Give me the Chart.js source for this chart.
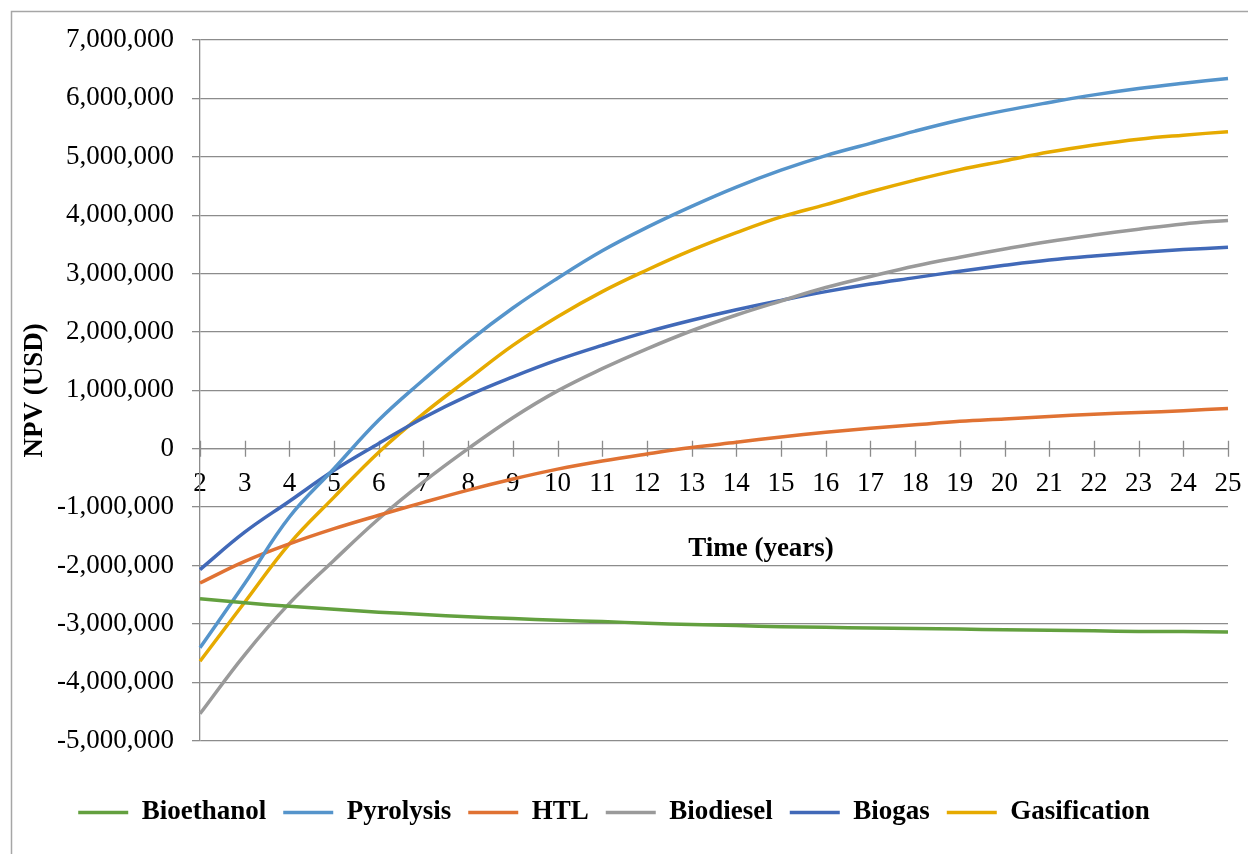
<!DOCTYPE html>
<html>
<head>
<meta charset="utf-8">
<title>NPV over time</title>
<script src="https://cdn.jsdelivr.net/npm/chart.js@4.4.0/dist/chart.umd.min.js"></script>
<style>
  html, body { margin: 0; padding: 0; background: #fff; }
  #wrap { width: 1248px; height: 854px; position: relative; }
</style>
</head>
<body>
<div id="wrap"><canvas id="npvChart"></canvas></div>
<script>
let years = ['2', '3', '4', '5', '6', '7', '8', '9', '10', '11', '12', '13',
             '14', '15', '16', '17', '18', '19', '20', '21', '22', '23', '24', '25'];

let bioethanol = [-2570000, -2640000, -2700000, -2750000, -2800000, -2840000, -2880000, -2910000,
                  -2940000, -2960000, -2990000, -3010000, -3030000, -3050000, -3060000, -3070000,
                  -3080000, -3090000, -3100000, -3110000, -3120000, -3130000, -3130000, -3140000];
let pyrolysis = [-3410000, -2310000, -1170000, -340000, 490000, 1180000, 1830000, 2410000,
                 2920000, 3390000, 3790000, 4150000, 4480000, 4770000, 5020000, 5230000,
                 5440000, 5630000, 5790000, 5930000, 6060000, 6170000, 6260000, 6340000];
let htl = [-2300000, -1930000, -1630000, -1370000, -1140000, -920000, -710000, -520000,
           -350000, -210000, -90000, 20000, 110000, 200000, 280000, 350000,
           410000, 470000, 510000, 550000, 590000, 620000, 650000, 690000];
let biodiesel = [-4540000, -3530000, -2650000, -1910000, -1200000, -570000, 0, 530000,
                 990000, 1370000, 1710000, 2020000, 2290000, 2530000, 2760000, 2950000,
                 3130000, 3280000, 3420000, 3550000, 3660000, 3760000, 3850000, 3910000];
let biogas = [-2070000, -1430000, -900000, -370000, 90000, 530000, 910000, 1230000,
              1520000, 1770000, 2000000, 2200000, 2380000, 2540000, 2690000, 2820000,
              2930000, 3040000, 3140000, 3230000, 3300000, 3360000, 3410000, 3450000];
let gasification = [-3640000, -2630000, -1630000, -830000, -60000, 600000, 1190000, 1770000,
                    2260000, 2690000, 3060000, 3400000, 3700000, 3970000, 4180000, 4400000,
                    4600000, 4780000, 4930000, 5080000, 5200000, 5300000, 5370000, 5430000];

let seriesNames = ['Bioethanol', 'Pyrolysis', 'HTL', 'Biodiesel', 'Biogas', 'Gasification'];
let seriesData = [bioethanol, pyrolysis, htl, biodiesel, biogas, gasification];
let seriesColors = ['#63a03f', '#5594cb', '#e07233', '#9a9a9a', '#4169b8', '#e6aa00'];

let axisGrey = '#8c8c8c';
let serif = '"Liberation Serif", "Times New Roman", serif';

Chart.defaults.font.family = serif;
Chart.defaults.font.size = 27;
Chart.defaults.color = '#000';

// frame, tick marks across the zero axis and the x-axis caption
let decor = {
  id: 'decor',
  beforeDraw(chart) {
    let ctx = chart.ctx;
    ctx.save();
    ctx.fillStyle = '#fff';
    ctx.fillRect(0, 0, chart.width, chart.height);
    ctx.strokeStyle = '#a6a6a6';
    ctx.lineWidth = 1.5;
    ctx.strokeRect(11.5, 11.5, chart.width + 20, chart.height + 20);
    ctx.restore();
  },
  beforeDatasetsDraw(chart) {
    let ctx = chart.ctx;
    let xs = chart.scales.x, ys = chart.scales.y;
    let y0 = ys.getPixelForValue(0);
    ctx.save();
    ctx.strokeStyle = axisGrey;
    ctx.lineWidth = 1.3;
    ctx.beginPath();
    xs.ticks.forEach((t, i) => {
      let x = Math.round(xs.getPixelForTick(i)) + 0.5;
      ctx.moveTo(x, y0 - 8);
      ctx.lineTo(x, y0 + 8);
    });
    ctx.stroke();
    ctx.restore();
  },
  afterDraw(chart) {
    let ctx = chart.ctx;
    let area = chart.chartArea;
    let y0 = chart.scales.y.getPixelForValue(0);
    ctx.save();
    ctx.font = 'bold 27px ' + serif;
    ctx.fillStyle = '#000';
    ctx.textAlign = 'center';
    ctx.textBaseline = 'middle';
    ctx.fillText('Time (years)', area.left + 561, y0 + 100);
    ctx.restore();
  }
};

let ctx = document.getElementById('npvChart').getContext('2d');

let npvChart = new Chart(ctx, {
  type: 'line',
  data: {
    labels: years,
    datasets: seriesNames.map((name, i) => ({
      label: name,
      data: seriesData[i],
      borderColor: seriesColors[i],
      backgroundColor: seriesColors[i],
      borderWidth: 3.5,
      pointRadius: 0,
      tension: 0.4,
      fill: false
    }))
  },
  options: {
    responsive: true,
    maintainAspectRatio: false,
    animation: false,
    layout: { padding: { top: 40, right: 20, bottom: 18, left: 0 } },
    plugins: {
      legend: {
        position: 'bottom',
        // empty title only used as a spacer above the legend row
        title: { display: true, text: ' ', font: { size: 2 }, padding: { top: 0, bottom: 39 } },
        labels: {
          usePointStyle: true,
          pointStyle: 'line',
          pointStyleWidth: 50,
          padding: 17,
          font: { weight: 'bold', size: 27 },
          color: '#000'
        }
      },
      tooltip: { enabled: false }
    },
    scales: {
      x: {
        type: 'category',
        position: { y: 0 },
        offset: false,
        afterFit: s => { s.paddingRight = 0; },
        grid: { drawOnChartArea: false, drawTicks: false },
        border: { color: axisGrey, width: 1.3 },
        ticks: { padding: 19, maxRotation: 0, autoSkip: false, color: '#000' }
      },
      y: {
        min: -5000000,
        max: 7000000,
        afterFit: s => { s.width = 200; },
        ticks: {
          stepSize: 1000000,
          padding: 18,
          color: '#000',
          callback: v => v.toLocaleString('en-US')
        },
        grid: { color: axisGrey, lineWidth: 1.3, tickLength: 8 },
        border: { color: axisGrey, width: 1.3 },
        title: {
          display: true,
          text: 'NPV (USD)',
          color: '#000',
          font: { weight: 'bold', size: 27 },
          padding: { top: 19, bottom: 0 }
        }
      }
    }
  },
  plugins: [decor]
});
</script>
</body>
</html>
